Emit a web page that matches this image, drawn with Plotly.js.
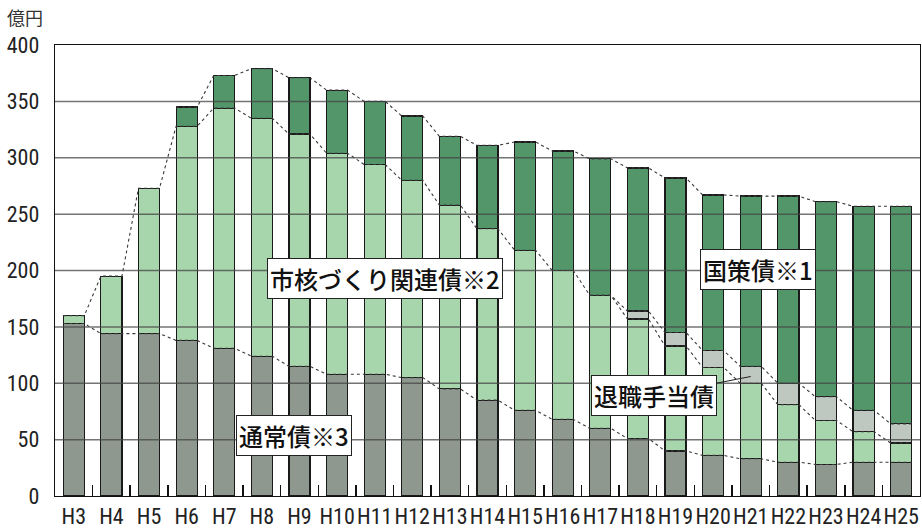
<!DOCTYPE html>
<html><head><meta charset="utf-8">
<script src="https://cdn.plot.ly/plotly-3.0.1.min.js"></script>
<style>html,body{margin:0;padding:0;background:#fff}#chart{width:922px;height:529px}</style>
</head><body><div id="chart"></div>
<script>
// Data (億円)
const categories = ["H3","H4","H5","H6","H7","H8","H9","H10","H11","H12","H13","H14","H15","H16","H17","H18","H19","H20","H21","H22","H23","H24","H25"];
const normalDebt   = [153,144,144,138,131,124,115,108,108,105,95,85,76,68,60,51,40,36,33,30,28,30,30];   // 通常債※3
const cityDebt     = [7,51,129,190,213,211,206,196,186,175,163,152,142,132,118,106,93,78,67,51,39,27,17]; // 市核づくり関連債※2
const retireDebt   = [0,0,0,0,0,0,0,0,0,0,0,0,0,0,0,7,12,15,15,19,21,19,17];                             // 退職手当債
const nationalDebt = [0,0,0,17,29,44,50,56,56,57,61,74,96,106,121,127,137,138,151,166,173,181,193];         // 国策債※1
const yTicks = [0,50,100,150,200,250,300,350,400];

const idx = categories.map((c,i)=>i);
const BW = 0.56;
const colors = {normal:"#8e988f", city:"#a8d6ac", retire:"#bfc8c0", national:"#52966a"};

function cum(arrs){ return arrs[0].map((_,i)=>arrs.reduce((s,a)=>s+a[i],0)); }
const c1 = cum([normalDebt]);
const c2 = cum([normalDebt,cityDebt]);
const c3 = cum([normalDebt,cityDebt,retireDebt]);
const c4 = cum([normalDebt,cityDebt,retireDebt,nationalDebt]);

function barTrace(vals,color,name){
  return {type:"bar", x:idx, y:vals, width:BW, name:name,
    marker:{color:color, line:{color:"#1a1a1a", width:1.2}}, hoverinfo:"skip"};
}
function dashLine(c,from,to){
  const xs=[],ys=[];
  for(let i=from;i<=to;i++){ xs.push(i-BW/2,i+BW/2); ys.push(c[i],c[i]); }
  return {type:"scatter", mode:"lines", x:xs, y:ys, showlegend:false, hoverinfo:"skip",
    line:{color:"#3a3a3a", width:1.1, dash:"3px,3px"}};
}

const traces = [
  barTrace(normalDebt, colors.normal, "通常債※3"),
  barTrace(cityDebt, colors.city, "市核づくり関連債※2"),
  barTrace(retireDebt, colors.retire, "退職手当債"),
  barTrace(nationalDebt, colors.national, "国策債※1"),
  dashLine(c1,0,22),
  dashLine(c2,0,22),
  dashLine(c3,14,22),
  dashLine(c4,3,22),
  {type:"scatter", x:[0], y:[0], xaxis:"x2", mode:"markers", marker:{opacity:0}, showlegend:false, hoverinfo:"skip"}
];

const boundaries = idx.slice(0,-1).map(i=>i+0.5);
const numFont = {family:"'Liberation Sans Narrow','Arial Narrow','Roboto Condensed','Liberation Sans',sans-serif", size:22, color:"#222"};
const jpFont = {family:"'Noto Sans CJK JP','Noto Sans',sans-serif", size:24, color:"#111", weight:500};

const gridShapes = yTicks.filter(v=>v>0&&v<400).map(v=>({
  type:"line", xref:"paper", x0:0, x1:1, yref:"y", y0:v, y1:v, layer:"above",
  line:{color:"rgba(70,70,70,0.75)", width:1.5}
}));

function box(text,x,y){
  return {text:text, x:x, y:y, xref:"x", yref:"y", showarrow:false, font:jpFont,
    bgcolor:"#fff", bordercolor:"#222", borderwidth:1, borderpad:2};
}

const layout = {
  width:922, height:529,
  margin:{l:55, r:2, t:45, b:33},
  paper_bgcolor:"#fff", plot_bgcolor:"#fff",
  barmode:"stack", showlegend:false,
  xaxis:{range:[-0.5,22.5], tickvals:idx, ticktext:categories, showgrid:false, zeroline:false,
    showline:true, mirror:true, linecolor:"#111", linewidth:1.3, ticks:"", tickfont:numFont, fixedrange:true},
  xaxis2:{overlaying:"x", range:[-0.5,22.5], tickvals:boundaries, ticks:"inside", ticklen:11,
    tickwidth:1.5, tickcolor:"#111", showticklabels:false, showgrid:false, zeroline:false, showline:false, side:"bottom"},
  yaxis:{range:[0,400], tickvals:yTicks, showgrid:false, zeroline:false, showline:true, mirror:true,
    linecolor:"#111", linewidth:1.3, ticks:"", tickfont:numFont, ticklabelstandoff:10, fixedrange:true},
  shapes:gridShapes,
  annotations:[
    {text:"億円", xref:"paper", yref:"paper", x:-0.058, y:1.0, yshift:28, xanchor:"left", yanchor:"middle",
      showarrow:false, font:{family:"'Noto Sans CJK JP',sans-serif", size:18, color:"#333"}},
    box("市核づくり関連債※2", 8.28, 192.5),
    box("国策債※1", 18.2, 201),
    box("通常債※3", 5.86, 54),
    {text:"退職手当債", x:18, y:106, xref:"x", yref:"y", showarrow:true, arrowhead:0, arrowwidth:1,
      arrowcolor:"#222", ax:-97, ay:19, font:jpFont, bgcolor:"#fff", bordercolor:"#222", borderwidth:1, borderpad:2}
  ]
};

Plotly.newPlot("chart", traces, layout, {displayModeBar:false, staticPlot:true});
</script></body></html>
